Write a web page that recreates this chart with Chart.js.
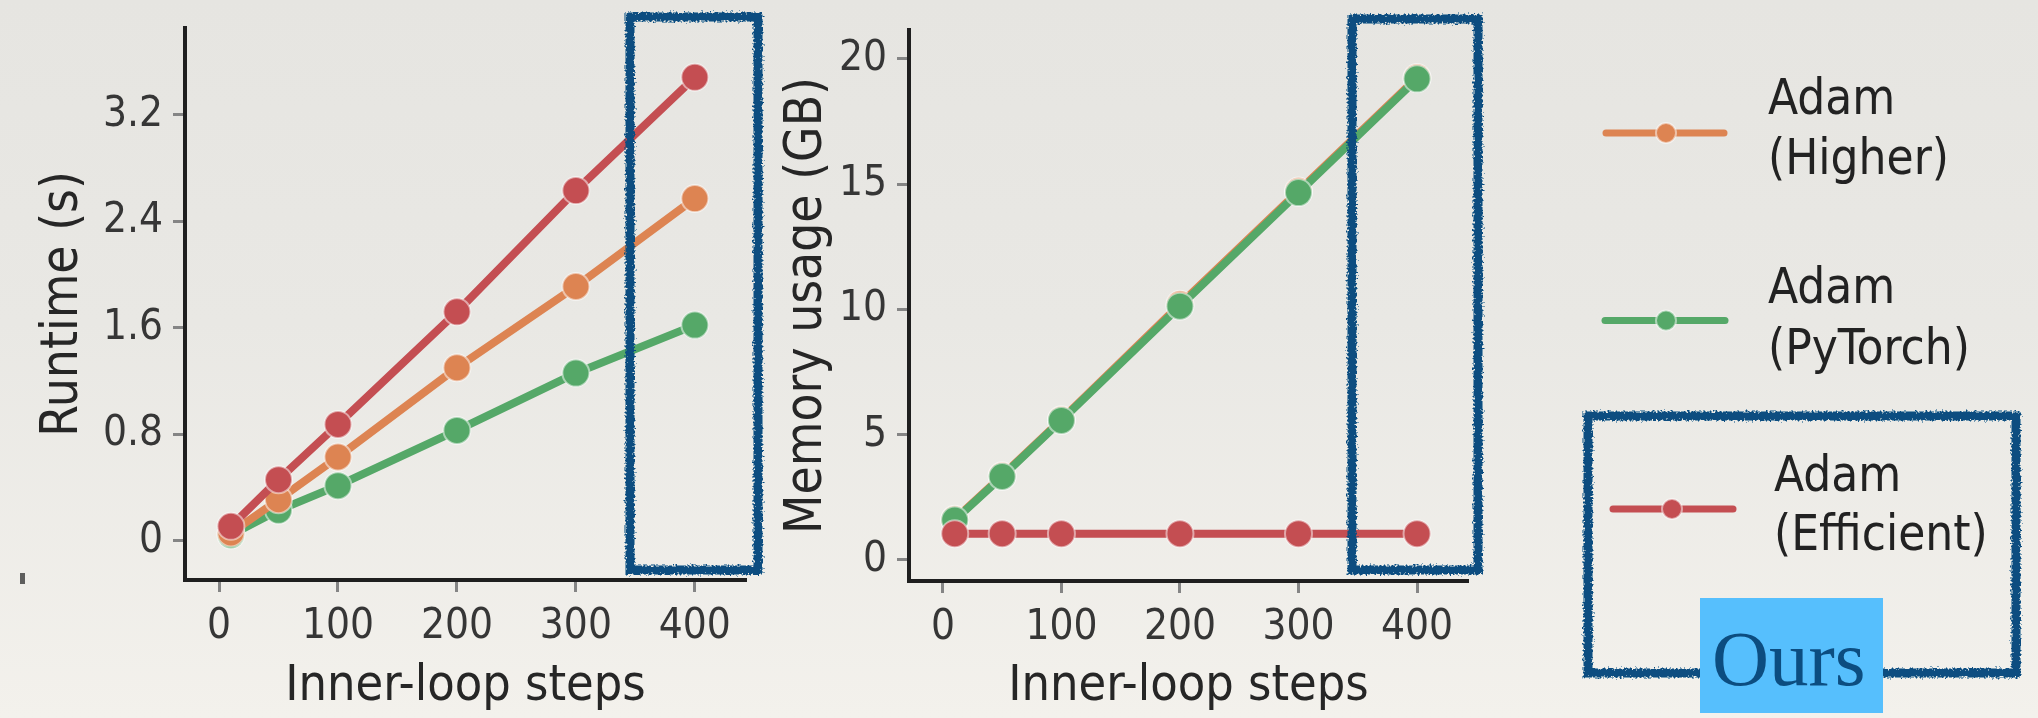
<!DOCTYPE html>
<html>
<head>
<meta charset="utf-8">
<script src="https://cdn.jsdelivr.net/npm/chart.js@4.4.1/dist/chart.umd.min.js"></script>
<style>
  html, body { margin: 0; padding: 0; }
  body {
    width: 2038px; height: 718px; position: relative; overflow: hidden;
    background: linear-gradient(180deg, #e6e5e1 0%, #e9e8e4 45%, #f3f1ec 100%);
  }
  #runtimeCanvas { position: absolute; left: 0; top: 0; }
  #memoryCanvas { position: absolute; left: 760px; top: 0; }
  #frames { position: absolute; left: 0; top: 0; pointer-events: none; }
  #ours {
    position: absolute; left: 1700px; top: 598px; width: 183px; height: 115px;
    background: #56bffd;
  }
  #ours span {
    position: absolute; left: 12px; top: 21px;
    font-family: 'Liberation Serif', serif; font-size: 79px; line-height: 79px;
    color: #0c4d80;
  }
  .speck { position: absolute; left: 20px; top: 573px; width: 5px; height: 11px; background: #3a3a3a; opacity: 0.8; }
</style>
</head>
<body>
<canvas id="runtimeCanvas" width="780" height="718"></canvas>
<canvas id="memoryCanvas" width="1278" height="718"></canvas>
<svg id="frames" width="2038" height="718">
  <defs>
    <filter id="rough" filterUnits="userSpaceOnUse" x="0" y="0" width="2038" height="718">
      <feTurbulence type="fractalNoise" baseFrequency="0.5" numOctaves="2" seed="7" result="noise"/>
      <feDisplacementMap in="SourceGraphic" in2="noise" scale="7" xChannelSelector="R" yChannelSelector="G"/>
    </filter>
  </defs>
  <g fill="none" stroke="#0c4d80" stroke-width="9" filter="url(#rough)">
    <rect x="630" y="17" width="128" height="553"/>
    <rect x="1352" y="19" width="126" height="551"/>
    <rect x="1588" y="416" width="428" height="257"/>
  </g>
</svg>
<div id="ours"><span>Ours</span></div>
<div class="speck"></div>

<script>
// Inner-loop step counts shared by both panels
const steps = [10, 50, 100, 200, 300, 400];

// Runtime per meta-step (seconds)
const runtimeHigher    = [0.06, 0.31, 0.63, 1.30, 1.91, 2.57];
const runtimePyTorch   = [0.045, 0.23, 0.415, 0.83, 1.26, 1.62];
const runtimeEfficient = [0.11, 0.46, 0.875, 1.72, 2.63, 3.48];

// Peak memory usage (GB)
const memoryHigher    = [1.62, 3.36, 5.60, 10.20, 14.72, 19.25];
const memoryPyTorch   = [1.59, 3.33, 5.57, 10.13, 14.66, 19.20];
const memoryEfficient = [1.05, 1.05, 1.05, 1.05, 1.05, 1.05];

// Tick labels
const stepTicks    = [0, 100, 200, 300, 400];
const runtimeTicks = [0, 0.8, 1.6, 2.4, 3.2];
const memoryTicks  = [0, 5, 10, 15, 20];

// Series names (two-line legend entries)
const seriesLines = [['Adam', '(Higher)'], ['Adam', '(PyTorch)'], ['Adam', '(Efficient)']];
const seriesColors = ['#dd8452', '#55a868', '#c44e52'];

const SANS = "'DejaVu Sans Condensed', 'DejaVu Sans', sans-serif";

function toPoints(values) {
  return values.map((v, i) => ({ x: steps[i], y: v }));
}

function makeDataset(idx, values, order) {
  const c = seriesColors[idx];
  return {
    label: seriesLines[idx].join(' '),
    data: toPoints(values),
    borderColor: c,
    backgroundColor: c,
    borderWidth: 8,
    pointRadius: 13.5,
    pointHoverRadius: 13.5,
    pointBackgroundColor: c,
    pointBorderColor: 'rgba(255,255,255,0.5)',
    pointBorderWidth: 2,
    tension: 0,
    order: order
  };
}

// keep the plot box exactly where the layout puts it
function noScalePadding(s) {
  s.paddingTop = 0; s.paddingBottom = 0; s.paddingLeft = 0; s.paddingRight = 0;
}

function xScale(xHeight) {
  return {
    type: 'linear', min: -28.6, max: 443,
    afterBuildTicks: s => { s.ticks = stepTicks.map(v => ({ value: v })); },
    afterFit: s => { s.height = xHeight; noScalePadding(s); },
    grid: { drawOnChartArea: false, drawTicks: true, tickLength: 12, tickWidth: 3, tickColor: '#858585' },
    border: { display: true, color: '#1f1f1f', width: 4 },
    ticks: { font: { family: SANS, size: 42 }, color: '#363636', padding: 10, maxRotation: 0, autoSkip: false, callback: v => String(v) },
    title: { display: true, text: 'Inner-loop steps', color: '#262626', font: { family: SANS, size: 50 }, padding: { top: 0, bottom: 1 } }
  };
}

function yScale(min, max, ticks, width, title, titlePad) {
  return {
    type: 'linear', min: min, max: max,
    afterBuildTicks: s => { s.ticks = ticks.map(v => ({ value: v })); },
    afterFit: s => { s.width = width; noScalePadding(s); },
    grid: { drawOnChartArea: false, drawTicks: true, tickLength: 12, tickWidth: 3, tickColor: '#858585' },
    border: { display: true, color: '#1f1f1f', width: 4 },
    ticks: { font: { family: SANS, size: 42 }, color: '#363636', padding: 10, autoSkip: false, callback: v => String(v) },
    title: { display: true, text: title, color: '#262626', font: { family: SANS, size: 51 }, padding: { top: titlePad, bottom: 0 } }
  };
}

const commonOptions = {
  responsive: false,
  animation: false,
  devicePixelRatio: 1,
  plugins: { legend: { display: false }, tooltip: { enabled: false } },
  events: []
};

// Legend drawn beside the memory panel, from the dataset colours and names
const legendLayout = [
  { lineX0: 846, lineX1: 964, markX: 906, y: 133,   textX: 1008, base: [113.5, 174] },
  { lineX0: 845, lineX1: 965, markX: 906, y: 320.5, textX: 1008, base: [303, 364] },
  { lineX0: 853, lineX1: 973, markX: 912, y: 509,   textX: 1014, base: [491, 549.5] }
];

const sideLegend = {
  id: 'sideLegend',
  afterDraw(chart) {
    const ctx = chart.ctx;
    ctx.save();
    legendLayout.forEach((L, i) => {
      const c = seriesColors[i];
      ctx.strokeStyle = c;
      ctx.lineWidth = 7;
      ctx.lineCap = 'round';
      ctx.beginPath();
      ctx.moveTo(L.lineX0, L.y);
      ctx.lineTo(L.lineX1, L.y);
      ctx.stroke();
      ctx.beginPath();
      ctx.arc(L.markX, L.y, 10, 0, Math.PI * 2);
      ctx.fillStyle = c;
      ctx.fill();
      ctx.lineWidth = 2;
      ctx.strokeStyle = 'rgba(255,255,255,0.5)';
      ctx.stroke();
      ctx.fillStyle = '#222222';
      ctx.font = "49px " + SANS;
      ctx.textBaseline = 'alphabetic';
      ctx.textAlign = 'left';
      seriesLines[i].forEach((t, k) => ctx.fillText(t, L.textX, L.base[k]));
    });
    ctx.restore();
  }
};

new Chart(document.getElementById('runtimeCanvas'), {
  type: 'line',
  data: {
    datasets: [
      makeDataset(0, runtimeHigher, 2),
      makeDataset(1, runtimePyTorch, 3),
      makeDataset(2, runtimeEfficient, 1)
    ]
  },
  options: Object.assign({}, commonOptions, {
    layout: { autoPadding: false, padding: { top: 28, right: 34, left: 0, bottom: 0 } },
    scales: {
      x: xScale(138),
      y: yScale(-0.293, 3.85, runtimeTicks, 185, 'Runtime (s)', 33)
    }
  })
});

new Chart(document.getElementById('memoryCanvas'), {
  type: 'line',
  data: {
    datasets: [
      makeDataset(0, memoryHigher, 3),
      makeDataset(1, memoryPyTorch, 2),
      makeDataset(2, memoryEfficient, 1)
    ]
  },
  options: Object.assign({}, commonOptions, {
    layout: { autoPadding: false, padding: { top: 30, right: 570, left: 0, bottom: 0 } },
    scales: {
      x: xScale(137),
      y: yScale(-0.84, 21.15, memoryTicks, 149, 'Memory usage (GB)', 17)
    }
  }),
  plugins: [sideLegend]
});
</script>
</body>
</html>
